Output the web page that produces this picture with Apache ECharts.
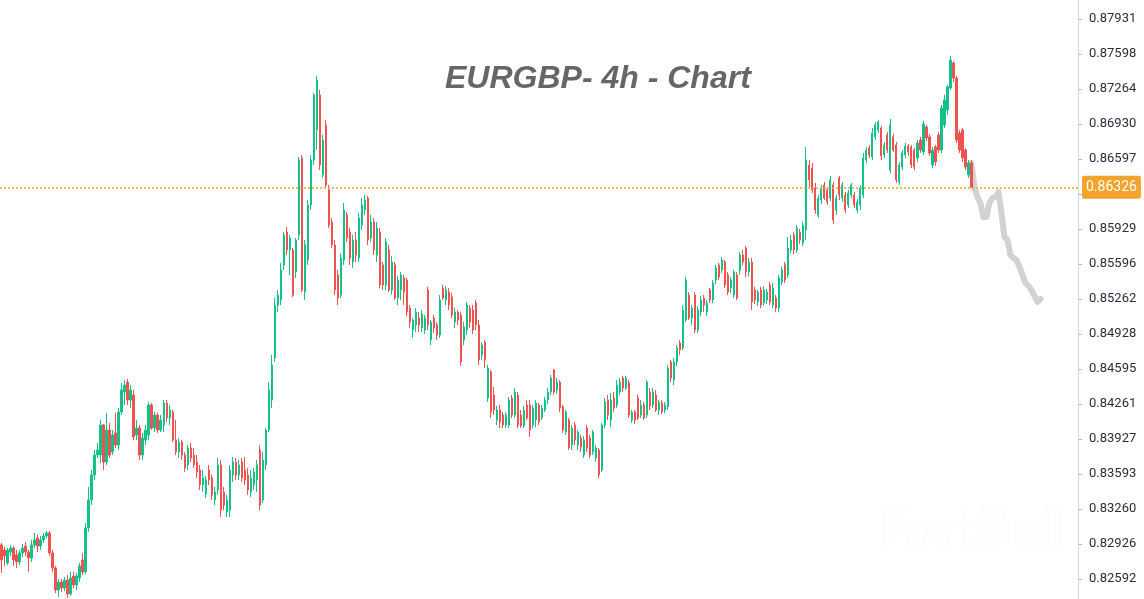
<!DOCTYPE html>
<html>
<head>
<meta charset="utf-8">
<script src="https://cdn.jsdelivr.net/npm/echarts@6/dist/echarts.min.js"></script>
<style>
html,body{margin:0;padding:0;background:#fff;}
#chart{width:1144px;height:599px;}
</style>
</head>
<body>
<div id="chart"></div>
<script>
// EURGBP 4h candles, prices in 1e-5 units (price x 100000): [open, close, low, high]
const candles = [
[82916,82773,82649,82935],[82868,82811,82716,82897],[82744,82868,82725,82887],[82849,82887,82811,82916],
[82887,82773,82716,82906],[82821,82754,82697,82868],[82754,82840,82725,82868],[82840,82887,82802,82926],
[82906,82849,82811,82945],[82849,82792,82659,82868],[82792,82916,82754,82964],[82916,82964,82887,83031],
[82983,82906,82849,83012],[82906,82964,82868,83002],[82964,83002,82935,83031],[83002,83031,82983,83050],
[83031,82840,82811,83050],[82840,82697,82659,82868],[82697,82487,82458,82716],[82487,82563,82420,82592],
[82563,82506,82468,82592],[82506,82582,82477,82611],[82582,82449,82411,82630],[82449,82601,82430,82659],
[82620,82535,82506,82659],[82535,82620,82487,82649],[82601,82716,82563,82744],[82773,82659,82630,82840],
[82659,83078,82639,83126],[83078,83345,83040,83469],[83345,83583,83297,83631],[83583,83774,83536,83822],
[83774,83822,83745,83889],[83774,84060,83698,84108],[84060,83707,83631,84070],[83707,84012,83679,84175],
[84012,83774,83745,84079],[83803,83965,83774,84012],[83984,83869,83841,84175],[83869,84184,83822,84222],
[84184,84394,84155,84460],[84375,84441,84251,84489],[84470,84298,84251,84498],[84298,84394,84222,84441],
[84346,83946,83917,84394],[83965,84031,83917,84108],[84031,83774,83726,84060],[83774,83936,83726,83984],
[83917,84012,83869,84060],[83965,84251,83917,84279],[84251,84031,84012,84270],[84031,84155,83993,84184],
[84155,84012,83984,84175],[84012,84108,83993,84155],[84060,84270,83993,84298],[84270,84127,84089,84298],
[84127,84203,84060,84251],[84184,83917,83898,84203],[83917,83803,83774,84108],[83803,83898,83745,83936],
[83898,83774,83726,83917],[83774,83650,83612,83803],[83679,83841,83631,83869],[83841,83745,83707,83889],
[83774,83679,83650,83841],[83707,83612,83555,83774],[83631,83488,83440,83679],[83488,83555,83421,83631],
[83402,83536,83364,83574],[83631,83536,83488,83679],[83555,83393,83345,83583],[83345,83421,83297,83469],
[83440,83679,83393,83745],[83679,83250,83183,83726],[83421,83297,83250,83469],[83231,83345,83183,83393],
[83250,83631,83183,83679],[83583,83707,83517,83755],[83707,83583,83536,83745],[83583,83679,83536,83726],
[83707,83555,83517,83745],[83631,83536,83488,83755],[83583,83440,83393,83650],[83421,83555,83374,83631],
[83488,83612,83440,83650],[83536,83679,83421,83726],[83822,83297,83250,83869],[83345,83726,83316,83803],
[83679,84012,83631,84031],[84012,84394,83993,84470],[84298,84632,84222,84728],[84699,85204,84661,85271],
[85204,85299,85137,85347],[85252,85538,85204,85605],[85586,85872,85538,85900],[85900,85729,85681,85948],
[85729,85843,85490,85872],[85729,85299,85280,85748],[85519,85824,85462,85843],[85872,86587,85824,86615],
[86606,85347,85328,86634],[85328,85776,85252,85824],[85633,86158,85586,86205],[86158,86587,86110,86634],
[86587,87206,86539,87225],[86873,87349,86682,87387],[87206,86539,86491,87254],[86444,86777,86415,86825],
[86920,86348,86320,86968],[86301,85967,85938,86348],[85996,85776,85748,86034],[85776,85347,85299,85824],
[85490,85271,85204,85538],[85299,85652,85271,85700],[85633,86110,85586,86177],[86062,85843,85805,86091],
[85900,85652,85586,85938],[85614,85824,85557,85872],[85824,85681,85614,85900],[85652,86034,85614,86082],
[85967,86158,85919,86224],[86110,86205,86062,86253],[86224,85824,85776,86244],[85843,85996,85805,86062],
[85996,85729,85681,86034],[85681,85938,85614,85996],[85900,85395,85366,85938],[85586,85395,85347,85614],
[85395,85805,85347,85843],[85729,85347,85328,85776],[85347,85614,85299,85671],[85586,85271,85252,85614],
[85271,85442,85204,85481],[85347,85490,85252,85519],[85462,85328,85204,85490],[85442,85137,85099,85462],
[85175,85042,84985,85204],[84966,85061,84890,85080],[85013,85137,84947,85175],[85080,85013,84947,85137],
[84985,85118,84947,85156],[84966,85080,84928,85109],[85347,85013,84966,85376],[84870,85042,84823,85061],
[85080,84985,84937,85109],[85013,84918,84870,85042],[84918,85252,84890,85299],[85366,85271,85252,85395],
[85252,85347,85204,85385],[85328,85204,85156,85366],[85280,85109,85080,85318],[85042,85137,84985,85175],
[85137,85061,85013,85156],[85109,84661,84623,85137],[84870,84994,84823,85042],[84966,85204,84918,85233],
[85175,85042,84985,85204],[85156,84966,84928,85204],[85223,85013,84966,85252],[85013,84680,84632,85061],
[84728,84823,84680,84851],[84851,84680,84603,84870],[84317,84603,84279,84632],[84565,84184,84127,84584],
[84346,84203,84155,84422],[84108,84203,84060,84241],[84203,84089,84031,84251],[84155,84060,84031,84184],
[84060,84155,84031,84184],[84060,84298,84031,84327],[84317,84155,84127,84346],[84155,84375,84127,84413],
[84346,84060,84031,84375],[84155,84051,84031,84203],[84051,84203,84031,84241],[84251,84127,84108,84298],
[84251,84012,83946,84298],[84060,84222,84031,84251],[84108,84270,84041,84298],[84251,84089,84060,84270],
[84127,84222,84108,84251],[84203,84298,84184,84327],[84298,84375,84260,84413],[84375,84508,84346,84536],
[84584,84375,84346,84594],[84394,84470,84356,84508],[84470,84222,84184,84489],[84232,84012,83984,84251],
[83993,84184,83965,84203],[84108,83841,83822,84127],[83869,84031,83822,84060],[84060,83917,83869,84089],
[83869,83993,83822,84012],[83936,83850,83803,83965],[83774,83917,83745,83955],[84031,83841,83803,84060],
[83936,83774,83745,83965],[83803,83993,83774,84012],[83745,83841,83707,83869],[83822,83583,83555,83841],
[83631,84060,83612,84079],[84060,84279,84031,84317],[84298,84155,84108,84346],[84108,84298,84041,84365],
[84317,84222,84184,84375],[84251,84441,84222,84489],[84375,84470,84346,84508],[84508,84413,84375,84527],
[84413,84508,84394,84527],[84460,84155,84127,84489],[84108,84184,84079,84203],[84184,84108,84070,84203],
[84317,84127,84108,84346],[84155,84251,84127,84298],[84251,84127,84108,84279],[84155,84470,84127,84489],
[84375,84241,84203,84413],[84251,84375,84222,84413],[84346,84203,84184,84394],[84203,84279,84155,84298],
[84270,84184,84165,84298],[84203,84251,84175,84279],[84232,84603,84203,84632],[84661,84508,84470,84680],
[84489,84661,84441,84699],[84661,84794,84623,84823],[84842,84775,84728,84870],[84794,85156,84775,85204],
[85061,85442,85042,85471],[85299,85080,85061,85328],[85080,85175,85013,85204],[85299,84966,84937,85328],
[84966,85156,84937,85194],[85137,85252,85099,85290],[85271,85204,85137,85299],[85137,85223,85099,85252],
[85347,85252,85223,85366],[85252,85414,85223,85442],[85442,85557,85404,85586],[85586,85471,85442,85605],
[85538,85633,85509,85662],[85614,85395,85366,85633],[85490,85328,85299,85519],[85366,85442,85318,85471],
[85299,85519,85271,85538],[85490,85271,85252,85519],[85538,85681,85490,85710],[85681,85614,85586,85729],
[85748,85519,85471,85767],[85519,85614,85481,85652],[85614,85233,85156,85652],[85347,85252,85214,85376],
[85233,85328,85194,85347],[85347,85204,85175,85376],[85223,85347,85194,85385],[85252,85328,85214,85356],
[85395,85233,85204,85423],[85204,85366,85175,85414],[85271,85175,85137,85299],[85175,85462,85137,85490],
[85424,85538,85395,85567],[85586,85442,85414,85614],[85490,85748,85462,85853],[85729,85824,85700,85872],
[85872,85729,85690,85900],[85729,85938,85700,85967],[85900,85824,85786,85929],[85795,85967,85767,85996],
[85919,86587,85824,86711],[86539,86396,86329,86587],[86510,86301,86272,86558],[86320,86110,86072,86368],
[86062,86224,86034,86253],[86205,86320,86167,86348],[86348,86224,86205,86377],[86301,86186,86158,86320],
[86224,86396,86196,86434],[86348,86015,85977,86377],[86110,86224,86062,86253],[86415,86253,86205,86434],
[86224,86348,86186,86377],[86253,86110,86082,86282],[86158,86272,86129,86301],[86253,86348,86224,86368],
[86253,86158,86129,86282],[86110,86186,86082,86215],[86158,86320,86110,86348],[86253,86606,86224,86654],
[86587,86682,86558,86711],[86701,86634,86606,86730],[86615,86844,86587,86892],[86806,86920,86777,86949],
[86873,86949,86844,86968],[86892,86625,86587,86911],[86634,86730,86606,86758],[86825,86682,86654,86854],
[86491,86920,86463,86977],[86806,86682,86663,86835],[86730,86396,86367,86758],[86377,86539,86348,86568],
[86520,86654,86491,86682],[86634,86720,86606,86749],[86720,86663,86625,86739],[86711,86539,86510,86730],
[86682,86520,86491,86701],[86606,86749,86568,86777],[86777,86682,86654,86806],[86663,86930,86634,86958],
[86901,86797,86768,86920],[86806,86654,86625,86835],[86539,86682,86510,86711],[86711,86568,86529,86730],
[86825,86682,86654,86854],[86682,87082,86654,87111],[86920,87159,86892,87206],[87063,87283,87016,87302],
[87273,87540,87254,87578],[87511,87368,87330,87530],[87368,86777,86749,87387],[86844,86682,86654,86873],
[86873,86606,86568,86892],[86682,86520,86491,86701],[86444,86558,86415,86587],[86558,86326,86320,86587]
];

// Grey projection path (price x 100000), starting at the last candle
const forecastStart = 323;
const forecast = [86558,86329,86234,86177,86043,86043,86177,86224,86234,86282,86082,85853,
                  85824,85681,85652,85633,85567,85490,85414,85385,85347,85290,85233,85261];

const lastPrice = 0.86326;
const yTicks = [0.82592,0.82926,0.83260,0.83593,0.83927,0.84261,0.84595,0.84928,0.85262,
                0.85596,0.85929,0.86263,0.86597,0.86930,0.87264,0.87598,0.87931];
const yMin = 0.82401, yMax = 0.88112;
const slotCount = 359;
const titleText = 'EURGBP- 4h - Chart';

const SCALE = 1e5;
const categories = Array.from({length: slotCount}, (_, i) => String(i));
const candleData = candles.map(c => c.map(v => v / SCALE));
const forecastData = categories.map((_, i) => {
  const k = i - forecastStart;
  return (k >= 0 && k < forecast.length) ? forecast[k] / SCALE : null;
});

const UP = '#12c28a', DOWN = '#f0524f', ORANGE = '#f4a42c';

const chart = echarts.init(document.getElementById('chart'), null, {renderer: 'canvas'});
chart.setOption({
  animation: false,
  backgroundColor: '#ffffff',
  title: {
    text: titleText,
    left: 440, top: 58,
    textStyle: {fontFamily: 'Liberation Sans, Arial, sans-serif', fontSize: 32, fontWeight: 'bold', fontStyle: 'italic', color: '#666666'}
  },
  grid: {left: 0, right: 66, top: 0, bottom: 0, containLabel: false},
  xAxis: {
    type: 'category', data: categories, boundaryGap: true,
    axisLine: {show: false}, axisTick: {show: false}, axisLabel: {show: false}, splitLine: {show: false}
  },
  yAxis: {
    type: 'value', position: 'right', min: yMin, max: yMax, scale: true,
    axisLine: {show: true, lineStyle: {color: '#d6d6d6', width: 1}},
    axisTick: {show: true, length: 4, lineStyle: {color: '#bdbdbd'}, customValues: yTicks},
    axisLabel: {
      show: true, customValues: yTicks, margin: 11, color: '#2b2f38', fontSize: 13,
      fontFamily: 'Roboto, Arial, sans-serif',
      formatter: v => v.toFixed(5)
    },
    splitLine: {show: false}
  },
  graphic: [{
    type: 'text', left: 877, top: 503, z: 1, silent: true,
    style: {text: 'FastBull', fill: '#fdfdfd', font: 'bold 54px Lato, "Noto Sans", sans-serif',
            shadowColor: 'rgba(0,0,0,0.2)', shadowBlur: 10, shadowOffsetY: 3}
  }],
  series: [{
    type: 'candlestick',
    data: candleData,
    barWidth: 1.8,
    itemStyle: {color: UP, color0: DOWN, borderColor: UP, borderColor0: DOWN, borderWidth: 1},
    markLine: {
      silent: true, symbol: ['none', 'none'], animation: false, precision: 5,
      lineStyle: {color: ORANGE, type: [2, 2], width: 1.6, opacity: 1},
      label: {
        show: true, position: 'end', distance: 4,
        formatter: () => lastPrice.toFixed(5),
        color: '#ffffff', fontSize: 14, fontFamily: 'Roboto, Arial, sans-serif',
        backgroundColor: ORANGE, padding: [5, 4, 4, 4], borderRadius: 2
      },
      data: [{yAxis: lastPrice}]
    },
    z: 3
  }, {
    type: 'line',
    data: forecastData,
    showSymbol: false, symbol: 'none', connectNulls: false,
    lineStyle: {color: '#d2d2d2', width: 6, cap: 'round', join: 'round'},
    z: 2
  }]
});
</script>
</body>
</html>
